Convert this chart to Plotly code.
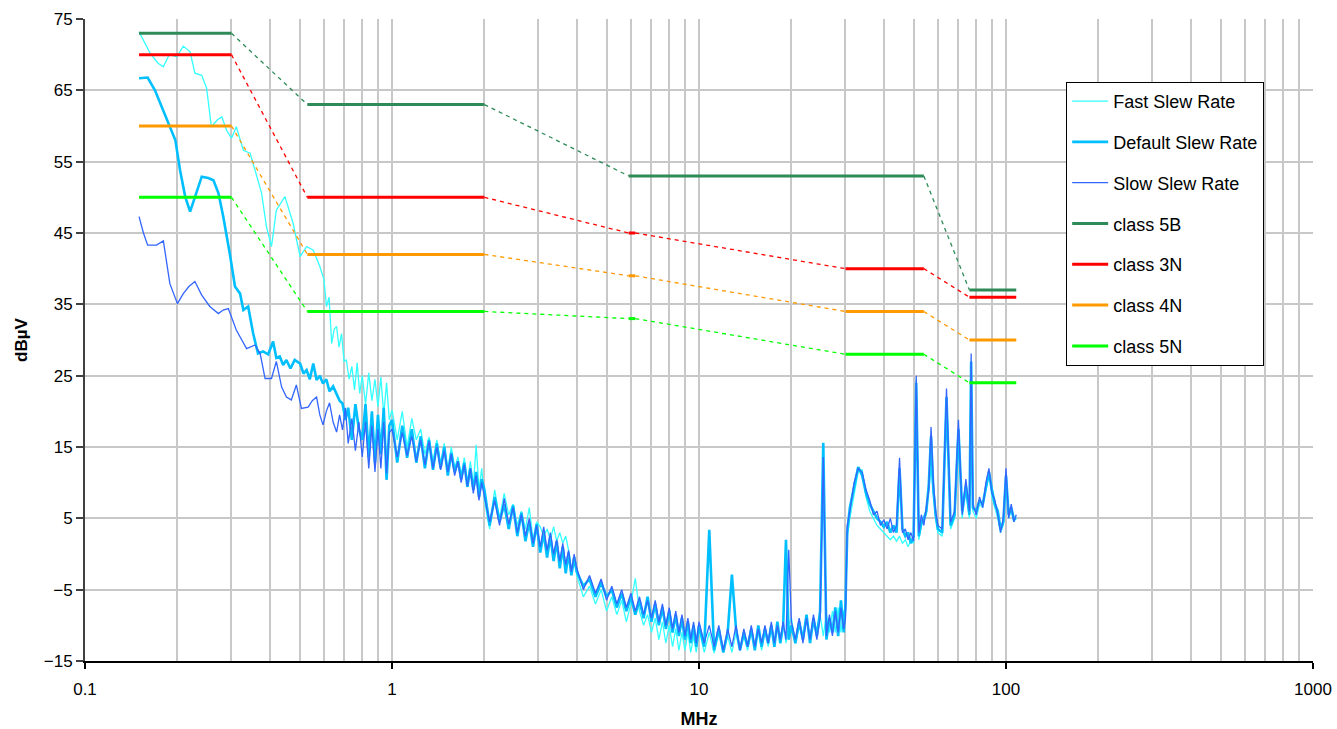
import plotly.graph_objects as go

# ---------------- data ----------------
# Low-frequency parts (MHz, dBuV)
FAST_LF_F = [0.150,0.163,0.173,0.180,0.188,0.199,0.209,0.220,0.228,0.240,0.249,0.258,0.269,0.279,0.289,0.300,0.311,0.328,0.345,0.358,0.376,0.390,0.405,0.420,0.448,0.476,0.502,0.527,0.554,0.582,0.600,0.612,0.624,0.636,0.648,0.660,0.672,0.685,0.698,0.710,0.725,0.740,0.755,0.770,0.785]
FAST_LF_V = [73.2,70.2,68.8,68.3,70.0,69.7,71.2,70.4,67.4,67.1,65.3,59.9,60.8,61.3,59.4,58.3,59.9,56.6,56.2,53.8,50.6,45.9,43.1,48.2,50.1,46.4,41.7,43.1,42.6,40.3,38.5,34.7,36.0,29.5,31.5,31.9,29.0,30.9,27.0,27.2,24.5,26.3,23.0,26.8,22.5]

DEF_LF_F = [0.150,0.160,0.169,0.178,0.187,0.197,0.204,0.212,0.220,0.228,0.240,0.252,0.262,0.272,0.282,0.296,0.308,0.320,0.328,0.340,0.353,0.366,0.380,0.395,0.410,0.420,0.431,0.442,0.453,0.467,0.482,0.502,0.515,0.527,0.540,0.554,0.568,0.582,0.596,0.611,0.626,0.643,0.660,0.675,0.690,0.705,0.720,0.740,0.760,0.780]
DEF_LF_V = [66.7,66.8,65.0,62.7,60.4,58.0,53.8,50.1,48.0,50.1,52.9,52.7,52.4,50.6,47.3,42.2,37.5,36.5,34.2,34.7,30.9,28.1,28.4,28.0,29.8,27.5,27.7,26.5,27.2,26.0,27.2,26.7,25.3,25.8,24.5,26.7,24.4,25.0,23.9,24.5,22.8,23.5,22.5,21.5,21.1,18.8,20.5,16.0,21.0,17.5]

SLOW_LF_F = [0.150,0.155,0.160,0.171,0.180,0.189,0.200,0.209,0.218,0.228,0.240,0.255,0.272,0.282,0.293,0.311,0.336,0.358,0.372,0.386,0.405,0.420,0.437,0.453,0.470,0.488,0.507,0.533,0.550,0.568,0.582,0.596,0.611,0.626,0.643,0.660,0.675,0.690,0.705,0.720,0.740,0.760,0.780]
SLOW_LF_V = [47.3,45.0,43.3,43.3,43.9,37.9,35.1,36.5,37.5,38.2,36.3,34.7,33.7,34.2,34.4,31.4,28.8,29.3,28.1,24.6,24.6,27.0,23.4,22.0,21.6,23.7,20.4,20.6,21.5,22.0,19.5,18.1,20.0,21.2,18.5,17.1,19.5,17.4,20.5,15.5,19.0,14.5,18.5]

# Common frequency list for the rest of the spectrum (MHz)
BAND_F = [0.80,0.82,0.84,0.86,0.88,0.90,0.92,0.94,0.96,0.98,
          1.00,1.04,1.08,1.12,1.16,1.20,1.24,1.28,1.32,1.36,1.40,1.44,1.48,1.52,1.56,1.60,1.64,1.68,1.72,1.76,1.80,1.84,1.88,1.92,1.96,
          2.00,2.08,2.16,2.24,2.32,2.40,2.48,2.56,2.64,2.72,2.80,2.88,2.96,3.04,3.12,3.20,3.28,3.36,3.44,3.52,3.60,3.68,3.76,3.84,3.92,
          4.0,4.2,4.4,4.6,4.8,5.0,5.2,5.4,5.6,5.8,6.0,6.2,6.4,6.6,6.8,7.0,7.2,7.4,7.6,7.8,8.0,8.2,8.4,8.6,8.8,9.0,9.2,9.4,9.6,9.8,
          10.0,10.4,10.8,11.2,11.6,12.0,12.4,12.8,13.2,13.6,14.0,14.4,14.8,15.2,15.6,16.0,16.4,16.8,17.2,17.6,18.0,18.4,18.8,19.2,19.6,
          20.0,20.6,21.2,21.8,22.4,23.0,23.6,24.2,24.8,25.4,26.0,26.6,27.2,27.8,28.4,29.0,29.6,
          30.0,30.4,31,32,33,34,35,36,37,38,39,40,41,42,43,44,45,46,47,48,49,50,51,52,53,54,55,56,57,58,59,60,
          62,64,66,68,70,72,74,76,77,78,80,82,84,86,88,90,92,94,96,98,100,102,104,106,108]

SLOW_BAND_V = [13.6,18.5,12.0,18.0,11.5,17.5,12.0,18.5,11.3,17.0,
               17.5,13.6,17.0,13.8,16.5,13.0,16.0,12.5,15.8,12.0,15.0,11.8,14.5,11.5,14.0,11.0,13.0,10.0,12.5,9.5,12.0,8.5,11.0,7.5,10.0,
               8.0,4.5,7.5,4.0,7.8,4.2,6.5,3.0,5.5,2.5,5.0,1.5,4.0,1.0,3.8,0.5,3.0,0.0,2.0,-1.0,1.5,-1.5,0.5,-2.5,0.0,
               -2.0,-5.0,-3.0,-5.5,-3.5,-6.5,-4.5,-7.0,-5.0,-7.5,-5.5,-8.0,-6.0,-8.5,-6.5,-9.0,-6.5,-9.5,-7.0,-10.0,-7.5,-10.5,-8.0,-11.0,-8.5,-11.5,-9.0,-12.0,-9.5,-12.5,
               -9.5,-12.5,-10.0,-13.0,-10.0,-13.5,-10.5,-13.0,-10.0,-13.5,-10.5,-13.0,-10.0,-13.0,-10.5,-12.5,-10.0,-12.5,-9.5,-12.5,-10.0,-12.0,-9.5,-12.0,0.6,
               -9.5,-12.0,-9.0,-12.5,-9.0,-12.0,-8.5,-12.0,-9.0,13.6,-11.5,-8.5,-11.5,-8.0,-11.0,-7.5,-10.5,
               -9.0,4.0,6.0,10.0,12.0,11.5,9.0,7.5,5.5,6.0,4.0,4.8,3.5,5.0,3.0,4.0,13.5,3.0,3.5,2.0,3.0,1.8,25.0,3.0,5.5,4.0,6.5,9.0,17.8,10.0,6.0,4.0,
               3.5,23.2,4.5,6.0,18.8,5.5,10.5,6.0,28.1,7.0,5.5,8.0,6.5,10.0,12.0,8.5,7.5,5.5,3.0,5.0,12.0,5.0,7.0,4.5,5.5]

DEF_BAND_V = [16.0,21.0,13.5,20.0,12.8,19.5,14.0,20.5,10.4,18.0,
              18.8,12.8,18.0,13.5,17.5,12.8,16.5,12.0,16.0,11.8,15.5,12.0,15.0,11.0,14.2,11.5,13.0,10.5,12.8,9.4,12.0,9.0,11.5,8.0,10.5,
              9.0,4.0,8.0,4.5,7.0,3.5,6.8,2.5,5.8,1.8,4.5,1.0,4.2,0.2,3.0,-0.5,2.5,-1.0,1.8,-2.0,1.0,-2.7,0.2,-3.0,-0.5,
              -2.5,-4.5,-3.5,-6.0,-4.0,-6.0,-5.0,-7.5,-5.5,-8.0,-6.0,-8.5,-6.5,-9.0,-6.0,-9.5,-7.0,-10.0,-7.5,-10.5,-8.0,-11.0,-8.5,-11.5,-9.0,-12.0,-9.5,-12.5,-10.0,-13.0,
              -10.0,-13.0,3.4,-13.5,-10.5,-13.8,-11.0,-2.9,-10.5,-13.5,-11.0,-13.0,-10.5,-13.5,-10.0,-13.0,-10.5,-12.5,-10.0,-13.0,-9.5,-12.5,-10.0,2.0,-12.0,
              -10.0,-12.5,-9.5,-12.0,-8.5,-12.5,-9.0,-11.5,-8.0,15.6,-12.0,-9.0,-11.0,-7.5,-11.5,-6.5,-11.0,
              -7.0,3.0,6.5,9.5,12.2,11.0,8.5,7.0,6.0,5.0,4.5,3.8,4.5,3.0,4.0,3.0,12.0,3.5,2.5,3.0,1.5,2.5,24.0,2.5,4.5,5.0,6.0,9.5,16.5,9.0,5.5,3.5,
              3.0,22.0,4.0,5.5,17.5,6.0,9.5,5.5,27.0,6.5,6.0,7.5,7.0,9.5,11.5,9.0,7.0,6.0,3.5,4.5,11.0,5.5,6.5,5.0,5.0]

FAST_BAND_V = [25.0,21.0,25.4,21.5,24.5,20.6,24.8,19.5,24.0,18.8,
               20.2,16.0,20.0,15.0,19.0,16.0,17.5,14.0,16.4,13.0,16.0,12.5,15.5,11.8,15.0,12.0,13.6,11.0,13.5,10.0,13.0,9.4,15.3,9.0,12.0,
               7.5,3.5,9.0,5.0,8.5,5.5,7.0,4.0,6.0,3.5,6.5,2.0,4.5,3.8,2.5,3.5,2.0,3.8,1.8,3.0,1.5,2.5,0.5,-2.5,-1.0,
               -3.0,-6.0,-4.5,-7.0,-5.0,-8.0,-6.0,-8.5,-6.5,-9.5,-7.0,-3.4,-8.0,-10.0,-8.5,-11.0,-9.0,-12.0,-9.5,-12.5,-10.0,-13.0,-10.5,-13.5,-11.0,-13.5,-11.0,-13.8,-11.5,-13.8,
               -10.5,-13.8,-11.0,-13.9,-11.0,-13.5,-11.5,-13.8,-11.0,-13.5,-11.5,-13.5,-10.5,-13.0,-11.0,-13.5,-10.5,-13.0,-10.0,-12.5,-10.0,-12.5,-9.5,-12.5,-10.0,
               -9.0,-12.5,-10.0,-12.0,-9.0,-11.5,-9.5,-11.0,-8.5,-11.5,-8.5,-11.0,-8.0,-11.0,-7.5,-11.0,-8.0,
               -8.0,2.5,5.0,8.5,11.5,11.8,8.0,6.0,5.0,4.0,3.5,3.0,2.5,2.0,2.5,1.8,2.5,1.5,2.0,1.0,2.0,1.5,24.5,2.0,4.0,4.5,5.5,8.5,12.0,8.5,5.0,3.0,
               2.5,21.0,3.5,5.0,16.0,5.0,9.0,5.0,25.0,6.0,5.0,7.0,6.5,9.0,11.0,8.0,6.5,5.0,3.0,4.0,10.5,5.0,6.0,4.5,5.0]

assert len(BAND_F) == len(SLOW_BAND_V) == len(DEF_BAND_V) == len(FAST_BAND_V)

# Limit lines: band start / end (MHz) and level (dBuV)
LIM_5B_START = [0.15, 0.53, 5.9, 76]
LIM_5B_END = [0.30, 2.0, 54, 108]
LIM_5B_LEVEL = [73, 63, 53, 37]
LIM_START = [0.15, 0.53, 5.9, 30, 76]
LIM_END = [0.30, 2.0, 6.2, 54, 108]
LIM_3N_LEVEL = [70, 50, 45, 40, 36]
LIM_4N_LEVEL = [60, 42, 39, 34, 30]
LIM_5N_LEVEL = [50, 34, 33, 28, 24]

X_TICKS = [0.1, 1, 10, 100, 1000]
X_TICK_TEXT = ["0.1", "1", "10", "100", "1000"]
X_MINOR = [0.2,0.3,0.4,0.5,0.6,0.7,0.8,0.9, 2,3,4,5,6,7,8,9, 20,30,40,50,60,70,80,90, 200,300,400,500,600,700,800,900]
Y_TICKS = [-15, -5, 5, 15, 25, 35, 45, 55, 65, 75]

# ---------------- figure ----------------
fig = go.Figure()

spectra = [
    ("Fast Slew Rate", FAST_LF_F + BAND_F, FAST_LF_V + FAST_BAND_V, "#33FFFF", 1.3),
    ("Default Slew Rate", DEF_LF_F + BAND_F, DEF_LF_V + DEF_BAND_V, "#00BFFF", 2.6),
    ("Slow Slew Rate", SLOW_LF_F + BAND_F, SLOW_LF_V + SLOW_BAND_V, "#3366FF", 1.3),
]
for name, xs, ys, col, w in spectra:
    fig.add_trace(go.Scatter(x=xs, y=ys, mode="lines", name=name, legendgroup=name,
                             line=dict(color=col, width=w)))

limits = [
    ("class 5B", LIM_5B_START, LIM_5B_END, LIM_5B_LEVEL, "#2E8B57"),
    ("class 3N", LIM_START, LIM_END, LIM_3N_LEVEL, "#FF0000"),
    ("class 4N", LIM_START, LIM_END, LIM_4N_LEVEL, "#FF9900"),
    ("class 5N", LIM_START, LIM_END, LIM_5N_LEVEL, "#00FF00"),
]
for name, st, en, lv, col in limits:
    sx, sy, dx, dy = [], [], [], []
    for i in range(len(lv)):
        sx += [st[i], en[i], None]
        sy += [lv[i], lv[i], None]
        if i + 1 < len(lv):
            dx += [en[i], st[i + 1], None]
            dy += [lv[i], lv[i + 1], None]
    fig.add_trace(go.Scatter(x=dx, y=dy, mode="lines", name=name, legendgroup=name,
                             showlegend=False, line=dict(color=col, width=1.3, dash="4px,4px")))
    fig.add_trace(go.Scatter(x=sx, y=sy, mode="lines", name=name, legendgroup=name,
                             line=dict(color=col, width=3)))

GRID = "#C8C8C8"
fig.update_layout(
    width=1337, height=729, autosize=False,
    margin=dict(l=85, r=24, t=19, b=68),
    paper_bgcolor="white", plot_bgcolor="white",
    font=dict(family="Liberation Sans, Arial, sans-serif", size=17, color="black"),
    legend=dict(x=0.799, y=0.902, xanchor="left", yanchor="top",
                bgcolor="white", bordercolor="black", borderwidth=1,
                font=dict(size=18), traceorder="grouped", tracegroupgap=14.4,
                itemwidth=36),
    xaxis=dict(type="log", range=[-1, 3], tickmode="array", tickvals=X_TICKS, ticktext=X_TICK_TEXT,
               showgrid=True, gridcolor=GRID, gridwidth=1.5, automargin=False,
               ticklabeloverflow="allow",
               ticks="outside", ticklen=6, tickwidth=2, tickcolor="black",
               showline=True, linecolor="black", linewidth=2, zeroline=False,
               ticklabelstandoff=6,
               minor=dict(tickmode="array", tickvals=X_MINOR, showgrid=True, gridcolor=GRID, gridwidth=1.5, ticks=""),
               title=dict(text="<b>MHz</b>", font=dict(size=18), standoff=14)),
    yaxis=dict(range=[-15, 75], tickmode="array", tickvals=Y_TICKS, automargin=False,
               showgrid=True, gridcolor=GRID, gridwidth=1.5,
               ticks="outside", ticklen=7, tickwidth=2, tickcolor="#404040",
               showline=True, linecolor="#404040", linewidth=2, zeroline=False,
               title=dict(text="<b>dBµV</b>", font=dict(size=17), standoff=12)),
)

fig.write_html("out.html", config={"displayModeBar": False},
               post_script="document.body.style.margin='0';")
